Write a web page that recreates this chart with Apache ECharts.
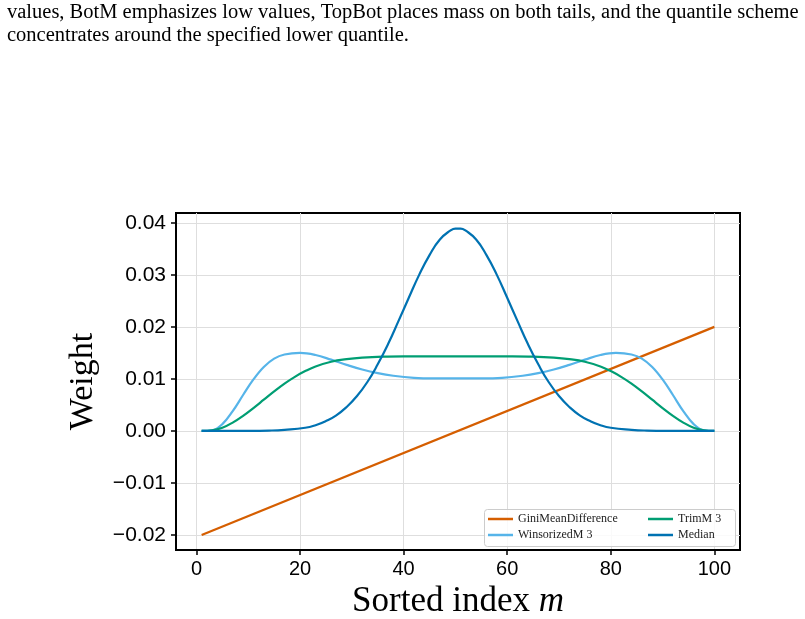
<!DOCTYPE html>
<html>
<head>
<meta charset="utf-8">
<script src="https://cdn.jsdelivr.net/npm/echarts@6/dist/echarts.min.js"></script>
<style>
html,body{margin:0;padding:0;background:#fff;}
#chart{width:805px;height:619px;}
</style>
</head>
<body>
<div id="chart"></div>
<script>
// ---- data ----
const captionLines = [
  'values, BotM emphasizes low values, TopBot places mass on both tails, and the quantile scheme',
  'concentrates around the specified lower quantile.'
];
const seriesNames = ['GiniMeanDifference', 'WinsorizedM 3', 'TrimM 3', 'Median'];

const mGini = [1, 100];
const giniVals = [-0.02, 0.02];

const mWins = [1, 3, 5, 7, 9, 11, 13, 15, 17, 20, 23, 26, 29, 32, 35, 38, 42, 46, 50, 51, 55, 59, 63, 66, 69, 72, 75, 78, 81, 84, 86, 88, 90, 92, 94, 96, 98, 100];
const winsVals = [0, 0.0001, 0.0013, 0.0038, 0.0069, 0.0099, 0.0123, 0.0139, 0.0147, 0.0150, 0.0146, 0.0137, 0.0127, 0.0118, 0.0111, 0.0106, 0.0102, 0.0101, 0.0101, 0.0101, 0.0101, 0.0102, 0.0106, 0.0111, 0.0118, 0.0127, 0.0137, 0.0146, 0.0150, 0.0147, 0.0139, 0.0123, 0.0099, 0.0069, 0.0038, 0.0013, 0.0001, 0];

const mTrim = [1, 3, 5, 7, 9, 11, 13, 15, 17, 19, 21, 23, 26, 29, 32, 36, 40, 50, 51, 61, 65, 69, 72, 75, 78, 80, 82, 84, 86, 88, 90, 92, 94, 96, 98, 100];
const trimVals = [0, 0.0001, 0.0006, 0.0016, 0.0029, 0.0044, 0.0060, 0.0076, 0.0091, 0.0104, 0.0115, 0.0124, 0.0133, 0.0138, 0.0141, 0.0143, 0.01435, 0.01435, 0.01435, 0.01435, 0.0143, 0.0141, 0.0138, 0.0133, 0.0124, 0.0115, 0.0104, 0.0091, 0.0076, 0.0060, 0.0044, 0.0029, 0.0016, 0.0006, 0.0001, 0];

const mMed = [1, 10, 14, 17, 21, 23, 25, 27, 29, 31, 33, 35, 37, 39, 41, 43, 45, 47, 49, 50, 51, 52, 54, 56, 58, 60, 62, 64, 66, 68, 70, 72, 74, 76, 78, 80, 84, 87, 91, 100];
const medVals = [0, 0.00001, 0.00006, 0.0002, 0.0006, 0.0011, 0.0019, 0.0030, 0.0046, 0.0067, 0.0094, 0.0128, 0.0167, 0.0211, 0.0256, 0.0300, 0.0338, 0.0368, 0.0385, 0.0389, 0.0389, 0.0385, 0.0368, 0.0338, 0.0300, 0.0256, 0.0211, 0.0167, 0.0128, 0.0094, 0.0067, 0.0046, 0.0030, 0.0019, 0.0011, 0.0006, 0.0002, 0.00006, 0.00001, 0];

const xTicks = [0, 20, 40, 60, 80, 100];
const yTicks = [-0.02, -0.01, 0, 0.01, 0.02, 0.03, 0.04];
const yTickLabels = ['\u22120.02', '\u22120.01', '0.00', '0.01', '0.02', '0.03', '0.04'];

const colors = ['#D55E00', '#56B4E9', '#009E73', '#0072B2'];

// ---- build ----
function pairs(xs, ys) { return xs.map((x, i) => [x, ys[i]]); }

const chart = echarts.init(document.getElementById('chart'), null, {renderer: 'canvas'});
const gridColor = '#dedede';
const legendText = {fontFamily: 'Liberation Serif', fontSize: 12, color: '#222'};
const legendCommon = {orient: 'vertical', icon: 'rect', itemWidth: 25, itemHeight: 2.5, itemGap: 4,
  textStyle: legendText, z: 5, padding: 0};

const option = {
  animation: false,
  backgroundColor: '#fff',
  title: {
    text: captionLines.join('\n'),
    left: 7, top: 1, padding: 0,
    textStyle: {fontFamily: 'Liberation Serif', fontSize: 20.5, fontWeight: 'normal', color: '#000', lineHeight: 23}
  },
  grid: {left: 176, right: 65, top: 213, bottom: 69, show: true, borderColor: '#000', borderWidth: 2,
    containLabel: false, outerBoundsMode: 'none'},
  xAxis: {
    type: 'value', min: -3.95, max: 104.95,
    name: 'Sorted index {i|m}', nameLocation: 'middle', nameGap: 31,
    nameTextStyle: {fontFamily: 'Liberation Serif', fontSize: 35, color: '#000',
      rich: {i: {fontFamily: 'Liberation Serif', fontStyle: 'italic', fontSize: 35, color: '#000'}}},
    axisLine: {show: true, onZero: false, lineStyle: {color: '#000', width: 2}},
    axisTick: {show: true, length: 5, lineStyle: {color: '#000', width: 1.5}, customValues: xTicks},
    axisLabel: {customValues: xTicks, margin: 9, fontFamily: 'Liberation Sans', fontSize: 20, color: '#000'},
    splitLine: {show: true, lineStyle: {color: gridColor, width: 1}, customValues: xTicks}
  },
  yAxis: {
    type: 'value', min: -0.0229, max: 0.0419,
    name: 'Weight', nameLocation: 'middle', nameGap: 76,
    nameTextStyle: {fontFamily: 'Liberation Serif', fontSize: 34, color: '#000'},
    axisLine: {show: true, onZero: false, lineStyle: {color: '#000', width: 2}},
    axisTick: {show: true, length: 5, lineStyle: {color: '#000', width: 1.5}, customValues: yTicks},
    axisLabel: {customValues: yTicks, margin: 10, fontFamily: 'Liberation Sans', fontSize: 21, color: '#000',
      formatter: v => { const i = yTicks.findIndex(t => Math.abs(t - v) < 1e-9); return i >= 0 ? yTickLabels[i] : ''; }},
    splitLine: {show: true, lineStyle: {color: gridColor, width: 1}, customValues: yTicks}
  },
  legend: [
    Object.assign({data: [seriesNames[0], seriesNames[1]], left: 488, top: 513}, legendCommon),
    Object.assign({data: [seriesNames[2], seriesNames[3]], left: 648, top: 513}, legendCommon)
  ],
  graphic: [{
    type: 'rect', left: 484, top: 509, z: 3,
    shape: {width: 251, height: 37, r: 3},
    style: {fill: 'rgba(255,255,255,0.85)', stroke: '#cccccc', lineWidth: 1}
  }],
  series: [
    {name: seriesNames[0], type: 'line', data: pairs(mGini, giniVals)},
    {name: seriesNames[1], type: 'line', data: pairs(mWins, winsVals), smooth: 0.4},
    {name: seriesNames[2], type: 'line', data: pairs(mTrim, trimVals), smooth: 0.4},
    {name: seriesNames[3], type: 'line', data: pairs(mMed, medVals), smooth: 0.5}
  ].map((s, i) => Object.assign(s, {
    symbol: 'none', color: colors[i], lineStyle: {color: colors[i], width: 2.2}, z: 2 + i * 0.01
  }))
};
chart.setOption(option);
</script>
</body>
</html>
